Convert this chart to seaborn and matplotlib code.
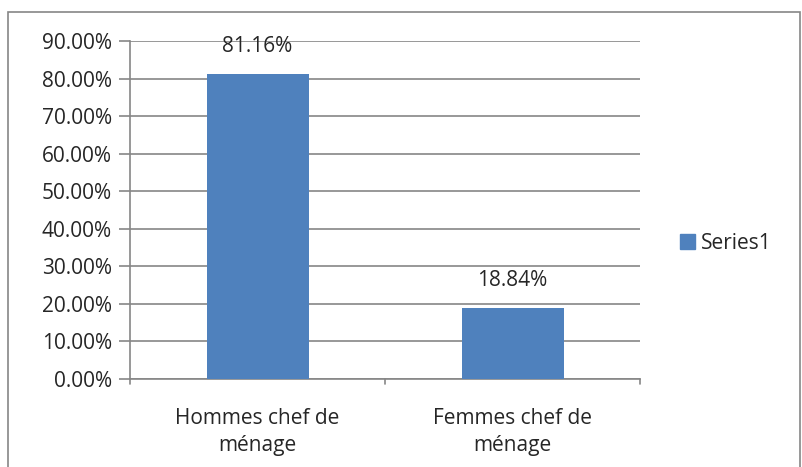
import matplotlib
matplotlib.use("Agg")
import matplotlib.pyplot as plt
from matplotlib.patches import Rectangle, Patch
import seaborn as sns
import pandas as pd

# data
categories = ["Hommes chef de\nménage", "Femmes chef de\nménage"]
values = [81.16, 18.84]
series_name = "Series1"
y_ticks = [0, 10, 20, 30, 40, 50, 60, 70, 80, 90]

bar_color = "#4F81BD"
grid_color = "#868686"
fs = 15

sns.set_style("white")
plt.rcParams["font.family"] = ["Open Sans", "DejaVu Sans"]

df = pd.DataFrame({"cat": categories, "val": values})

fig = plt.figure(figsize=(8.02, 4.67), dpi=100)
ax = fig.add_axes([130 / 802, 1 - 379 / 467, 510 / 802, 338 / 467])

sns.barplot(data=df, x="cat", y="val", color=bar_color, width=0.4,
            saturation=1, linewidth=0, edgecolor="none", ax=ax, zorder=3)

ax.set_ylim(0, 90)
ax.set_xlim(-0.5, 1.5)
ax.set_yticks(y_ticks)
ax.set_yticklabels([f"{t:.2f}%" for t in y_ticks], fontsize=fs)
ax.set_xticks(range(len(categories)))
ax.set_xticklabels(categories, fontsize=fs, linespacing=1.35)
ax.tick_params(axis="x", length=0, pad=21)
ax.tick_params(axis="y", length=8, color=grid_color, width=1.2, pad=5, left=True)
ax.set_xlabel("")
ax.set_ylabel("")
ax.yaxis.grid(True, color=grid_color, linewidth=1.2, zorder=0)
ax.set_axisbelow(True)

for s in ["top", "right"]:
    ax.spines[s].set_visible(False)
for s in ["left", "bottom"]:
    ax.spines[s].set_color(grid_color)
    ax.spines[s].set_linewidth(1.2)

# category boundary ticks on the x axis
for xb in [-0.5, 0.5, 1.5]:
    ax.plot([xb, xb], [0, -1.3], color=grid_color, lw=1.2, clip_on=False)

for i, v in enumerate(values):
    ax.text(i, v + 7.3, f"{v:.2f}%", ha="center", va="center", fontsize=fs)

fig.legend(handles=[Patch(color=bar_color, label=series_name)],
           loc="center left", bbox_to_anchor=(680 / 802, 1 - 243 / 467),
           frameon=False, fontsize=fs, handlelength=0.7, handleheight=0.7,
           handletextpad=0.3, borderaxespad=0, borderpad=0)

fig.patches.append(Rectangle((8 / 802, -10 / 467), 792 / 802, 465 / 467,
                             transform=fig.transFigure, fill=False,
                             edgecolor=grid_color, linewidth=1.2))

fig.savefig("out.png", dpi=100)
